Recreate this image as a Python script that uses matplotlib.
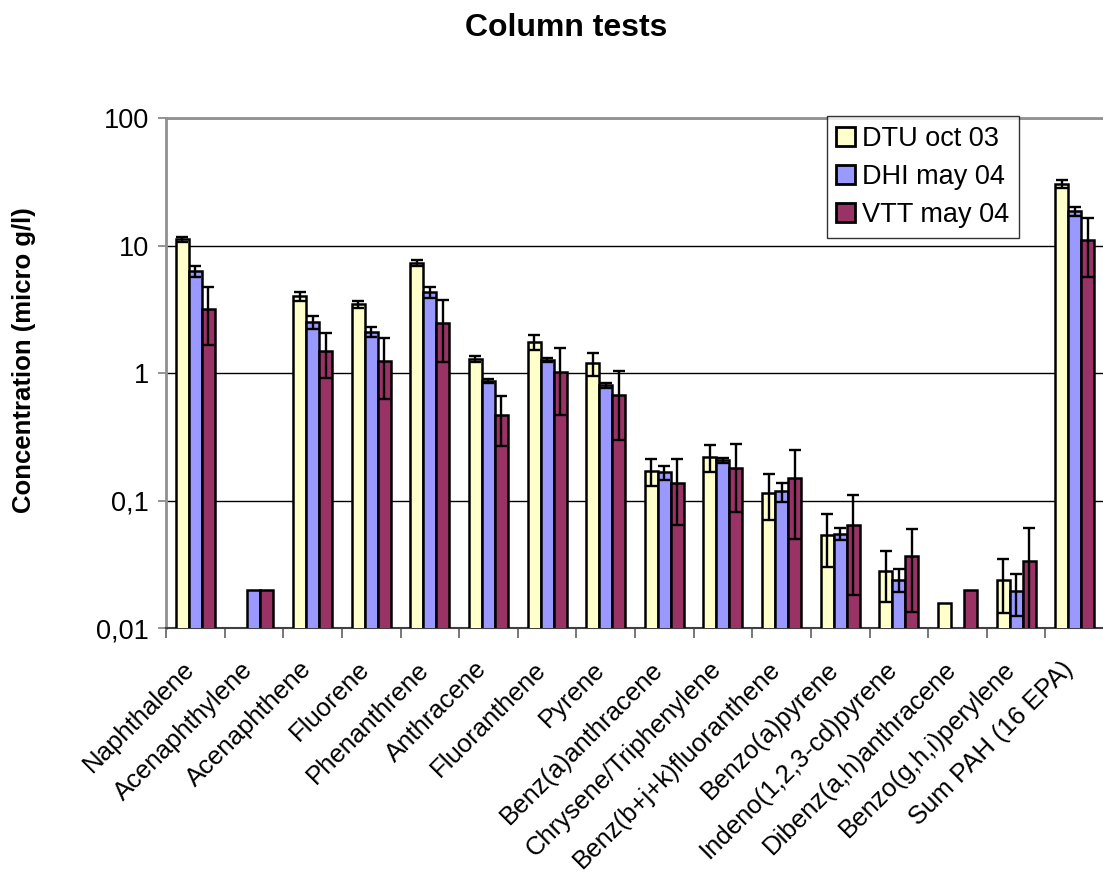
import numpy as np
import matplotlib
matplotlib.use("Agg")
import matplotlib.pyplot as plt
from matplotlib.transforms import ScaledTranslation

plt.rcParams['font.family'] = ['Liberation Sans', 'DejaVu Sans']

# data (nan = no bar)
categories = ["Naphthalene", "Acenaphthylene", "Acenaphthene", "Fluorene",
              "Phenanthrene", "Anthracene", "Fluoranthene", "Pyrene",
              "Benz(a)anthracene", "Chrysene/Triphenylene",
              "Benz(b+j+k)fluoranthene", "Benzo(a)pyrene",
              "Indeno(1,2,3-cd)pyrene", "Dibenz(a,h)anthracene",
              "Benzo(g,h,i)perylene", "Sum PAH (16 EPA)"]

series_names = ["DTU oct 03", "DHI may 04", "VTT may 04"]
colors = ["#FFFFCC", "#9999FF", "#993366"]

nan = np.nan
dtu = [11.2, nan, 4.0, 3.45, 7.3, 1.29, 1.75, 1.19, 0.17, 0.22, 0.115,
       0.054, 0.028, 0.0158, 0.024, 30.5]
dtu_err = [0.5, 0, 0.3, 0.2, 0.4, 0.07, 0.24, 0.25, 0.04, 0.054, 0.045,
           0.024, 0.012, 0, 0.011, 2.0]
dhi = [6.3, 0.02, 2.5, 2.1, 4.3, 0.87, 1.26, 0.80, 0.166, 0.206, 0.118,
       0.055, 0.024, nan, 0.0195, 18.5]
dhi_err = [0.6, 0, 0.3, 0.2, 0.4, 0.03, 0.04, 0.04, 0.02, 0.01, 0.02,
           0.006, 0.005, 0, 0.007, 1.6]
vtt = [3.2, 0.02, 1.48, 1.25, 2.48, 0.466, 1.02, 0.668, 0.138, 0.179, 0.149,
       0.064, 0.0364, 0.02, 0.0334, 11.1]
vtt_err = [1.55, 0, 0.57, 0.62, 1.27, 0.2, 0.55, 0.37, 0.074, 0.098, 0.099,
           0.046, 0.023, 0, 0.027, 5.4]

values = [dtu, dhi, vtt]
errors = [dtu_err, dhi_err, vtt_err]

fig = plt.figure(figsize=(11.03, 8.81), dpi=100)
ax = fig.add_axes([166 / 1103, 1 - 628 / 881, 938 / 1103, 510 / 881])

x = np.arange(len(categories))
width = 0.222

for i, (vals, errs) in enumerate(zip(values, errors)):
    vals = np.array(vals, dtype=float)
    errs = np.array(errs, dtype=float)
    pos = x + (i - 1) * width
    ax.bar(pos, vals, width, color=colors[i], edgecolor="black",
           linewidth=1.8, label=series_names[i], zorder=3)
    m = (errs > 0) & ~np.isnan(vals)
    ax.errorbar(pos[m], vals[m], yerr=errs[m], fmt="none", ecolor="black",
                elinewidth=1.7, capsize=4.5, capthick=1.7, zorder=4)

ax.set_yscale("log")
ax.set_ylim(0.01, 100)
ax.set_xlim(-0.5, len(categories) - 0.5)

ax.set_yticks([0.01, 0.1, 1, 10, 100])
ax.set_yticklabels(["0,01", "0,1", "1", "10", "100"], fontsize=19.5)
ax.yaxis.set_minor_locator(matplotlib.ticker.NullLocator())
ax.yaxis.grid(True, color="black", linewidth=1.0, zorder=0)
ax.tick_params(axis="y", length=6, color="#808080", width=1.2, pad=6)

ax.set_xticks(x)
ax.set_xticklabels(categories, fontsize=18.5, rotation=45, ha="right",
                   va="center", rotation_mode="anchor")
ax.set_xticks(np.arange(len(categories) + 1) - 0.5, minor=True)
ax.tick_params(axis="x", which="major", length=0, pad=27)
ax.tick_params(axis="x", which="minor", length=7, color="#606060", width=1.2)
shift = ScaledTranslation(-5 / 100, 0, fig.dpi_scale_trans)
for lbl in ax.get_xticklabels():
    lbl.set_transform(lbl.get_transform() + shift)

for s in ["left", "top"]:
    ax.spines[s].set_color("#909090")
    ax.spines[s].set_linewidth(2)
ax.spines["bottom"].set_color("#404040")
ax.spines["bottom"].set_linewidth(1.5)
ax.spines["right"].set_visible(False)

leg = ax.legend(loc="upper right", bbox_to_anchor=(0.909, 1.003),
                borderaxespad=0, fontsize=19.5, frameon=True, fancybox=False,
                handlelength=0.7, handleheight=0.7, handletextpad=0.25,
                labelspacing=0.45, borderpad=0.35)
leg.get_frame().set_edgecolor("black")
leg.get_frame().set_linewidth(1.0)
for h in leg.legend_handles:
    h.set_linewidth(2.0)

fig.text(566 / 1103, 1 - 28 / 881, "Column tests", fontsize=23,
         fontweight="bold", ha="center", va="center")
fig.text(24 / 1103, 1 - 360 / 881, "Concentration (micro g/l)", fontsize=18.5,
         fontweight="bold", rotation=90, ha="center", va="center")

fig.savefig("out.png", dpi=100)
